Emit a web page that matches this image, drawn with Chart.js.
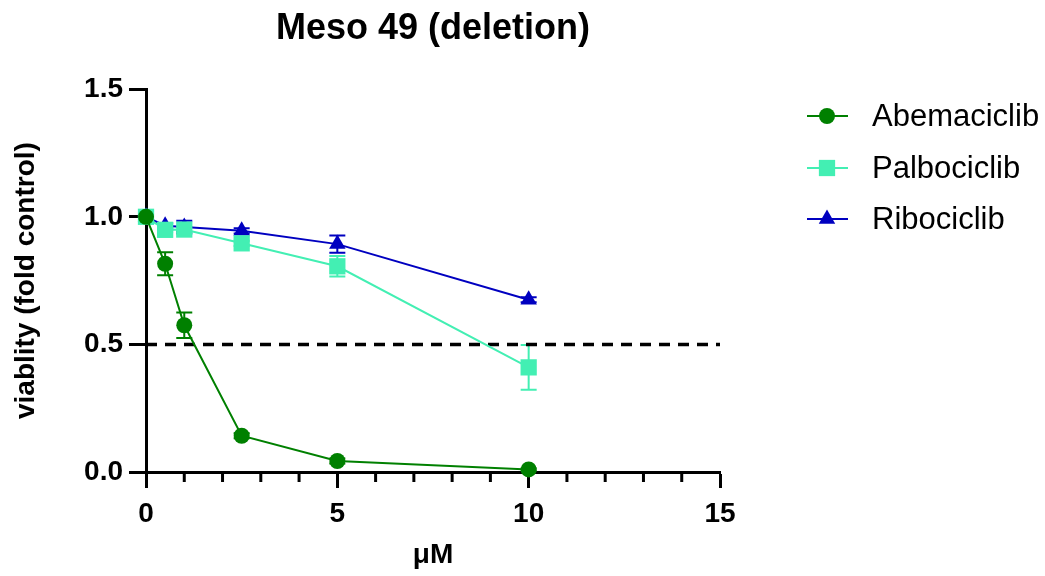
<!DOCTYPE html>
<html>
<head>
<meta charset="utf-8">
<script src="https://cdn.jsdelivr.net/npm/chart.js@4/dist/chart.umd.min.js"></script>
<style>
  html, body { margin: 0; padding: 0; background: #fff; }
  #wrap { width: 1045px; height: 576px; position: relative; }
</style>
</head>
<body>
<div id="wrap"><canvas id="chart"></canvas></div>
<script>
// doses in µM
const doses = [0, 0.5, 1, 2.5, 5, 10];

const abemaMean = [1.0, 0.816, 0.575, 0.142, 0.043, 0.01];
const abemaErr = [0.01, 0.045, 0.05, 0.01, 0.01, 0.005];
const palboMean = [1.0, 0.949, 0.95, 0.896, 0.806, 0.41];
const palboErr = [0.01, 0.01, 0.01, 0.01, 0.04, 0.088];
const riboMean = [1.0, 0.965, 0.96, 0.945, 0.893, 0.675];
const riboErr = [0.01, 0.01, 0.025, 0.01, 0.034, 0.01];

const xMajor = [0, 5, 10, 15];
const yMajor = [0, 0.5, 1.0, 1.5];
const halfLine = [0.5, 0.5];

const GREEN = "#008000";
const TEAL = "#43EFB3";
const BLUE = "#0000C0";
const FONT = "'Liberation Sans', Arial, sans-serif";

function pts(means, errs) {
  return doses.map((d, i) => ({ x: d, y: means[i], err: errs[i] }));
}

const series = [
  { label: "Abemaciclib", color: GREEN, style: "circle", radius: 8, data: pts(abemaMean, abemaErr) },
  { label: "Palbociclib", color: TEAL, style: "rect", radius: 11.5, data: pts(palboMean, palboErr) },
  { label: "Ribociclib", color: BLUE, style: "triangle", radius: 9.5, data: pts(riboMean, riboErr) },
];

const errorBars = {
  id: "errorBars",
  beforeDatasetsDraw(chart) {
    const ctx = chart.ctx;
    const ys = chart.scales.y;
    ctx.save();
    chart.data.datasets.forEach((ds, i) => {
      if (!ds.errorBars) return;
      const meta = chart.getDatasetMeta(i);
      meta.data.forEach((pt, j) => {
        const d = ds.data[j];
        const top = ys.getPixelForValue(d.y + d.err);
        const bot = ys.getPixelForValue(d.y - d.err);
        ctx.strokeStyle = ds.borderColor;
        ctx.lineWidth = 2;
        ctx.beginPath();
        ctx.moveTo(pt.x, top); ctx.lineTo(pt.x, bot);
        ctx.moveTo(pt.x - 8, top); ctx.lineTo(pt.x + 8, top);
        ctx.moveTo(pt.x - 8, bot); ctx.lineTo(pt.x + 8, bot);
        ctx.stroke();
      });
    });
    ctx.restore();
  },
};

const axisExtras = {
  id: "axisExtras",
  afterDraw(chart) {
    const ctx = chart.ctx;
    const xs = chart.scales.x;
    const ys = chart.scales.y;
    const base = ys.getPixelForValue(0);
    ctx.save();
    ctx.strokeStyle = "#000";
    ctx.lineWidth = 3;
    // minor ticks on x
    for (let v = xs.min; v <= xs.max; v++) {
      if (xMajor.includes(v)) continue;
      const px = xs.getPixelForValue(v);
      ctx.beginPath();
      ctx.moveTo(px, base);
      ctx.lineTo(px, base + 10);
      ctx.stroke();
    }
    ctx.restore();

    // legend
    ctx.save();
    const rows = [116, 168, 219];
    series.forEach((s, i) => {
      const y = rows[i];
      ctx.strokeStyle = s.color;
      ctx.lineWidth = 2;
      ctx.beginPath();
      ctx.moveTo(807, y);
      ctx.lineTo(848, y);
      ctx.stroke();
      ctx.fillStyle = s.color;
      Chart.helpers.drawPoint(ctx, {
        pointStyle: s.style, radius: s.radius, borderWidth: 0, rotation: 0,
      }, 827, y);
      ctx.fillStyle = "#000";
      ctx.font = "31px " + FONT;
      ctx.textBaseline = "middle";
      ctx.textAlign = "left";
      ctx.fillText(s.label, 872, y + 1);
    });
    ctx.restore();
  },
};

const datasets = series.map((s) => ({
  label: s.label,
  data: s.data,
  borderColor: s.color,
  backgroundColor: s.color,
  borderWidth: 2,
  pointStyle: s.style,
  pointRadius: s.radius,
  pointHoverRadius: s.radius,
  pointBorderWidth: 0,
  tension: 0,
  clip: false,
  errorBars: true,
}));

datasets.push({
  label: "IC50",
  data: [{ x: xMajor[0], y: halfLine[0] }, { x: xMajor[3], y: halfLine[1] }],
  borderColor: "#000",
  borderWidth: 3.5,
  borderDash: [11, 8],
  pointRadius: 0,
  clip: false,
});

new Chart(document.getElementById("chart"), {
  type: "line",
  data: { datasets },
  plugins: [errorBars, axisExtras],
  options: {
    responsive: true,
    maintainAspectRatio: false,
    animation: false,
    events: [],
    layout: { padding: { left: 0, right: 325, top: 0, bottom: 0 } },
    plugins: {
      legend: { display: false },
      tooltip: { enabled: false },
      title: {
        display: true,
        text: "Meso 49 (deletion)",
        fullSize: false,
        color: "#000",
        font: { family: FONT, size: 36, weight: "bold" },
        padding: { top: 7, bottom: 39 },
      },
    },
    scales: {
      x: {
        type: "linear",
        min: 0,
        max: 15,
        afterFit(scale) { scale.height = 104; },
        afterBuildTicks(scale) {
          scale.ticks = [];
          for (let v = 0; v <= 15; v++) scale.ticks.push({ value: v });
        },
        border: { display: true, color: "#000", width: 3 },
        grid: {
          drawOnChartArea: false,
          drawTicks: true,
          tickLength: 16,
          tickWidth: 3,
          tickColor: (c) => (xMajor.includes(c.tick && c.tick.value) ? "#000" : "rgba(0,0,0,0)"),
        },
        ticks: {
          color: "#000",
          font: { family: FONT, size: 28, weight: "bold" },
          padding: 9,
          maxRotation: 0,
          autoSkip: false,
          callback: (v) => (xMajor.includes(v) ? String(v) : ""),
        },
        title: {
          display: true,
          text: "μM",
          color: "#000",
          font: { family: FONT, size: 28, weight: "bold" },
          padding: { top: 0, bottom: 4 },
        },
      },
      y: {
        type: "linear",
        min: 0,
        max: 1.5,
        afterFit(scale) { scale.width = 146; },
        afterBuildTicks(scale) {
          scale.ticks = yMajor.map((v) => ({ value: v }));
        },
        border: { display: true, color: "#000", width: 3 },
        grid: {
          drawOnChartArea: false,
          drawTicks: true,
          tickLength: 17,
          tickWidth: 3,
          tickColor: "#000",
        },
        ticks: {
          color: "#000",
          font: { family: FONT, size: 28, weight: "bold" },
          padding: 6,
          callback: (v) => Number(v).toFixed(1),
        },
        title: {
          display: true,
          text: "viablity (fold control)",
          color: "#000",
          font: { family: FONT, size: 28, weight: "bold" },
          padding: { top: 9, bottom: 6 },
        },
      },
    },
  },
});
</script>
</body>
</html>
